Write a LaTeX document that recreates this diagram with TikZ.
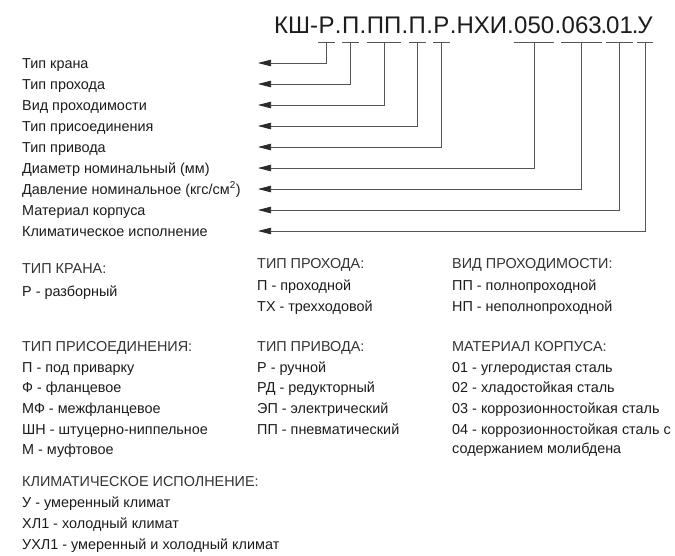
\documentclass[tikz,border=0pt]{standalone}
\usepackage{fontspec}
\setmainfont{Liberation Sans}
\usetikzlibrary{arrows.meta}
\definecolor{txt}{HTML}{1c1c1c}
\definecolor{hd}{HTML}{333333}
\definecolor{ln}{HTML}{555555}
\definecolor{tip}{HTML}{2a2a2a}
\begin{document}
\begin{tikzpicture}[x=1pt,y=-1pt,
  lbl/.style={anchor=base west, inner sep=0pt, font=\fontsize{14.4}{16}\selectfont, text=txt},
  hdg/.style={lbl, text=hd},
  code/.style={anchor=base west, inner sep=0pt, font=\fontsize{24}{28}\selectfont, text=txt},
  uline/.style={draw=ln, line width=0.7pt},
  conn/.style={draw=ln, line width=0.75pt, -{Triangle[length=13pt,width=6.5pt,color=tip,fill=tip]}}]
\useasboundingbox[fill=white] (0,0) rectangle (675,555);
% header code
\node[code] (c0) at (274,33) {КШ-};
\node[code] (c1) at (c0.base east) {Р};
\node[code] (d1) at (c1.base east) {.};
\node[code] (c2) at (d1.base east) {П};
\node[code] (d2) at (c2.base east) {.};
\node[code] (c3) at (d2.base east) {ПП};
\node[code] (d3) at (c3.base east) {.};
\node[code] (c4) at (d3.base east) {П};
\node[code] (d4) at (c4.base east) {.};
\node[code] (c5) at (d4.base east) {Р};
\node[code] (d5) at (c5.base east) {.НХИ.};
\node[code] (c6) at (d5.base east) {050};
\node[code] (d6) at (c6.base east) {.};
\node[code] (c7) at (d6.base east) {063};
\node[code] (d7) at ([xshift=-1.5pt]c7.base east) {.};
\node[code] (c8) at ([xshift=-1.5pt]d7.base east) {01};
\node[code] (d8) at ([xshift=-1.5pt]c8.base east) {.};
\node[code] (c9) at ([xshift=-1.5pt]d8.base east) {У};
% labels
\foreach \i/\y/\t in {1/63/{Тип крана},2/84/{Тип прохода},3/105/{Вид проходимости},4/126/{Тип присоединения},5/147/{Тип привода},6/168/{Диаметр номинальный (мм)},7/189/{Давление номинальное (кгс/см\textsuperscript{2})},8/210/{Материал корпуса},9/231/{Климатическое исполнение}}{
  \node[lbl] (l\i) at (22,\y+5) {\t};
  \coordinate (t\i) at (258,\y);
}
% underlines and connectors
\foreach \i in {1,...,9}{
  \draw[uline] ([yshift=-9pt]c\i.base west) -- ([yshift=-9pt]c\i.base east);
  \draw[conn] ([yshift=-9pt]c\i.base) |- (t\i);
}
% legend block 1
\node[hdg] (h1) at (22,273) {ТИП КРАНА:};
\node[lbl] (i11) at (22,296) {Р - разборный};
\node[hdg] (h2) at (257,268) {ТИП ПРОХОДА:};
\node[lbl] (i21) at (257,290) {П - проходной};
\node[lbl] (i22) at (257,311) {ТХ - трехходовой};
\node[hdg] (h3) at (452,268) {ВИД ПРОХОДИМОСТИ:};
\node[lbl] (i31) at (452,290) {ПП - полнопроходной};
\node[lbl] (i32) at (452,311) {НП - неполнопроходной};
% legend block 2
\node[hdg] (h4) at (22,351) {ТИП ПРИСОЕДИНЕНИЯ:};
\foreach \j/\y/\t in {1/372/{П - под приварку},2/392/{Ф - фланцевое},3/413/{МФ - межфланцевое},4/434/{ШН - штуцерно-ниппельное},5/454/{М - муфтовое}}
  \node[lbl] (i4\j) at (22,\y) {\t};
\node[hdg] (h5) at (257,351) {ТИП ПРИВОДА:};
\foreach \j/\y/\t in {1/372/{Р - ручной},2/392/{РД - редукторный},3/413/{ЭП - электрический},4/434/{ПП - пневматический}}
  \node[lbl] (i5\j) at (257,\y) {\t};
\node[hdg] (h6) at (452,351) {МАТЕРИАЛ КОРПУСА:};
\foreach \j/\y/\t in {1/372/{01 - углеродистая сталь},2/392/{02 - хладостойкая сталь},3/413/{03 - коррозионностойкая сталь},4/434/{04 - коррозионностойкая сталь с},5/453/{содержанием молибдена}}
  \node[lbl] (i6\j) at (452,\y) {\t};
% legend block 3
\node[hdg] (h7) at (22,486) {КЛИМАТИЧЕСКОЕ ИСПОЛНЕНИЕ:};
\foreach \j/\y/\t in {1/507/{У - умеренный климат},2/528/{ХЛ1 - холодный климат},3/549/{УХЛ1 - умеренный и холодный климат}}
  \node[lbl] (i7\j) at (22,\y) {\t};
\end{tikzpicture}
\end{document}
